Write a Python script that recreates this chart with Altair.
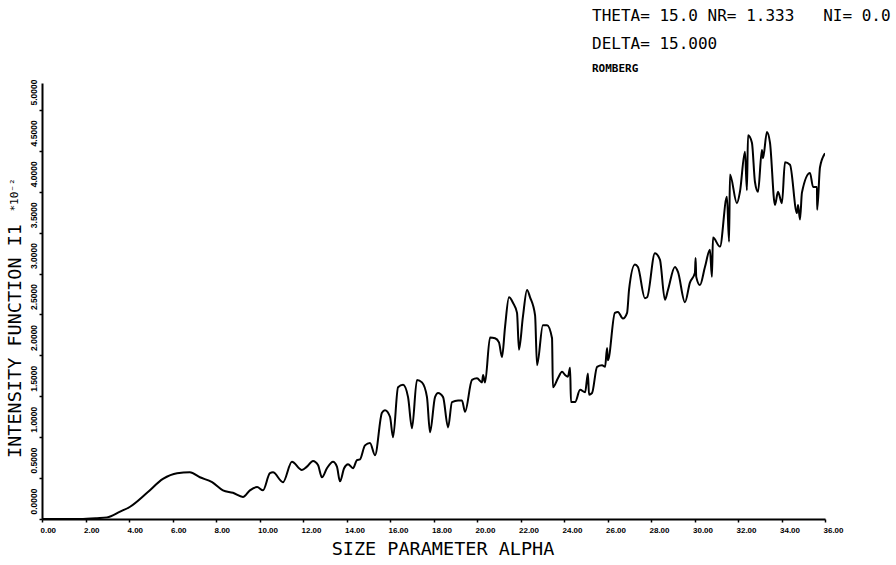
import altair as alt
import pandas as pd

# Size parameter alpha and intensity function I1 (units of 10^-2)
alpha = [0.00, 0.83, 1.75, 2.53, 2.99, 3.59, 4.05, 4.83, 5.56, 6.21, 6.80, 7.26, 7.82,
         8.32, 8.78, 9.24, 9.56, 9.89, 10.16, 10.48, 10.62, 11.08, 11.49, 11.95, 12.18,
         12.46, 12.69, 12.87, 13.10, 13.38, 13.56, 13.70, 13.89, 14.07, 14.30, 14.48,
         14.62, 14.85, 15.08, 15.31, 15.63, 15.77, 16.00, 16.14, 16.37, 16.60, 16.83,
         17.01, 17.24, 17.47, 17.70, 17.84, 18.07, 18.21, 18.44, 18.67, 18.85, 19.13,
         19.31, 19.45, 19.77, 20.00, 20.23, 20.28, 20.37, 20.60, 20.83, 21.01, 21.15,
         21.29, 21.47, 21.66, 21.84, 21.93, 22.11, 22.30, 22.44, 22.67, 22.76, 23.03,
         23.22, 23.45, 23.49, 23.72, 23.91, 24.05, 24.18, 24.28, 24.32, 24.51, 24.74,
         24.97, 25.10, 25.15, 25.29, 25.52, 25.75, 25.89, 25.98, 26.02, 26.34, 26.48,
         26.71, 26.90, 26.99, 27.26, 27.40, 27.72, 27.82, 28.18, 28.41, 28.64, 28.78,
         29.10, 29.24, 29.56, 29.79, 30.02, 30.05, 30.08, 30.25, 30.48, 30.71, 30.80,
         30.85, 31.17, 31.49, 31.59, 31.63, 31.95, 32.09, 32.32, 32.41, 32.46, 32.64,
         32.78, 32.92, 33.10, 33.15, 33.33, 33.47, 33.70, 33.84, 34.02, 34.16, 34.39,
         34.71, 34.76, 34.85, 34.94, 35.31, 35.45, 35.63, 35.64, 35.77, 36.00]
intensity = [0.00, 0.00, 0.00, 0.01, 0.02, 0.09, 0.15, 0.32, 0.49, 0.56, 0.57, 0.51, 0.45,
             0.35, 0.32, 0.27, 0.35, 0.39, 0.35, 0.56, 0.57, 0.45, 0.70, 0.60, 0.64,
             0.71, 0.66, 0.51, 0.62, 0.70, 0.64, 0.46, 0.62, 0.67, 0.62, 0.72,
             0.73, 0.90, 0.93, 0.78, 1.30, 1.33, 1.25, 1.00, 1.61, 1.64, 1.49,
             1.11, 1.70, 1.67, 1.49, 1.06, 1.49, 1.54, 1.49, 1.12, 1.43, 1.45,
             1.45, 1.31, 1.70, 1.72, 1.67, 1.76, 1.67, 2.22, 2.21, 2.16, 1.98,
             2.35, 2.71, 2.64, 2.52, 2.07, 2.47, 2.80, 2.71, 2.49, 1.88, 2.37,
             2.37, 2.21, 1.61, 1.72, 1.80, 1.76, 1.74, 1.85, 1.43, 1.43, 1.58,
             1.55, 1.78, 1.52, 1.54, 1.86, 1.88, 1.86, 2.09, 1.94, 2.52, 2.53,
             2.45, 2.52, 2.80, 3.11, 3.08, 2.70, 2.71, 3.25, 3.17, 2.68, 2.80,
             3.08, 3.02, 2.65, 2.89, 3.01, 3.19, 2.96, 2.86, 3.08, 3.29, 2.96,
             3.44, 3.33, 3.94, 3.39, 4.21, 3.86, 4.00, 4.49, 4.02, 4.69, 4.60,
             4.12, 4.00, 4.51, 4.41, 4.73, 4.60, 3.84, 4.00, 3.86, 4.36, 4.33,
             3.74, 3.84, 3.66, 3.99, 4.23, 4.06, 4.06, 3.78, 4.30, 4.47]

x_ticks = [float(v) for v in range(0, 37, 2)]
y_ticks = [0.0, 0.5, 1.0, 1.5, 2.0, 2.5, 3.0, 3.5, 4.0, 4.5, 5.0]

NBSP = "\u00a0"
header_lines = [
    f"THETA={NBSP}15.0{NBSP}NR={NBSP}1.333{NBSP * 3}NI={NBSP}0.0",
    f"DELTA={NBSP}15.000",
    "ROMBERG",
]
x_title = "SIZE PARAMETER ALPHA"
y_title = "INTENSITY FUNCTION I1"
y_scale_note = "*10\u207b\u00b2"

MONO = "DejaVu Sans Mono"
TICKFONT = "Liberation Sans"

df = pd.DataFrame({"alpha": alpha, "i1": intensity})

curve = alt.Chart(df).mark_line(
    color="black", strokeWidth=2, interpolate="monotone", clip=True
).encode(
    x=alt.X(
        "alpha:Q",
        scale=alt.Scale(domain=[0, 36], nice=False, zero=False),
        axis=alt.Axis(
            values=x_ticks, format=".2f", title=None, grid=False,
            domainColor="black", domainWidth=2, tickColor="black", tickWidth=1.5,
            tickSize=3, labelPadding=4, labelAlign="left", labelOffset=-2,
            labelBaseline="top", labelFont=TICKFONT, labelFontSize=8,
            labelFontWeight="bold", labelColor="black",
        ),
    ),
    y=alt.Y(
        "i1:Q",
        scale=alt.Scale(domain=[0, 5.33], nice=False, zero=True),
        axis=alt.Axis(
            values=y_ticks, format=".4f", title=None, grid=False,
            domainColor="black", domainWidth=2, tickColor="black", tickWidth=1.5,
            tickSize=3, labelPadding=1, labelAngle=270, labelAlign="left",
            labelBaseline="bottom", labelOffset=-5, labelFont=TICKFONT,
            labelFontSize=8.5, labelFontWeight="bold", labelColor="black",
        ),
    ),
)


def label(text, x, y, size, weight="normal", angle=0, align="left"):
    return alt.Chart(pd.DataFrame({"t": [text]})).mark_text(
        font=MONO, fontSize=size, fontWeight=weight, color="black",
        align=align, baseline="middle", angle=angle,
    ).encode(text="t:N", x=alt.value(x), y=alt.value(y))


texts = [
    label(header_lines[0], 550, -67, 16),
    label(header_lines[1], 550, -39, 16),
    label(header_lines[2], 550, -14, 11, weight="bold"),
    label(x_title, 401, 466, 18.5, align="center"),
    label(y_title, -27, 258, 18.5, angle=270, align="center"),
    label(y_scale_note, -27, 112, 11, angle=270, align="center"),
]

chart = alt.layer(curve, *texts).properties(
    width=783,
    height=436,
    autosize=alt.AutoSizeParams(type="none"),
    padding={"left": 42, "top": 83, "right": 71, "bottom": 46},
    background="white",
).configure_view(stroke=None)

chart.save("out.html", embed_options={"renderer": "svg", "actions": False})
